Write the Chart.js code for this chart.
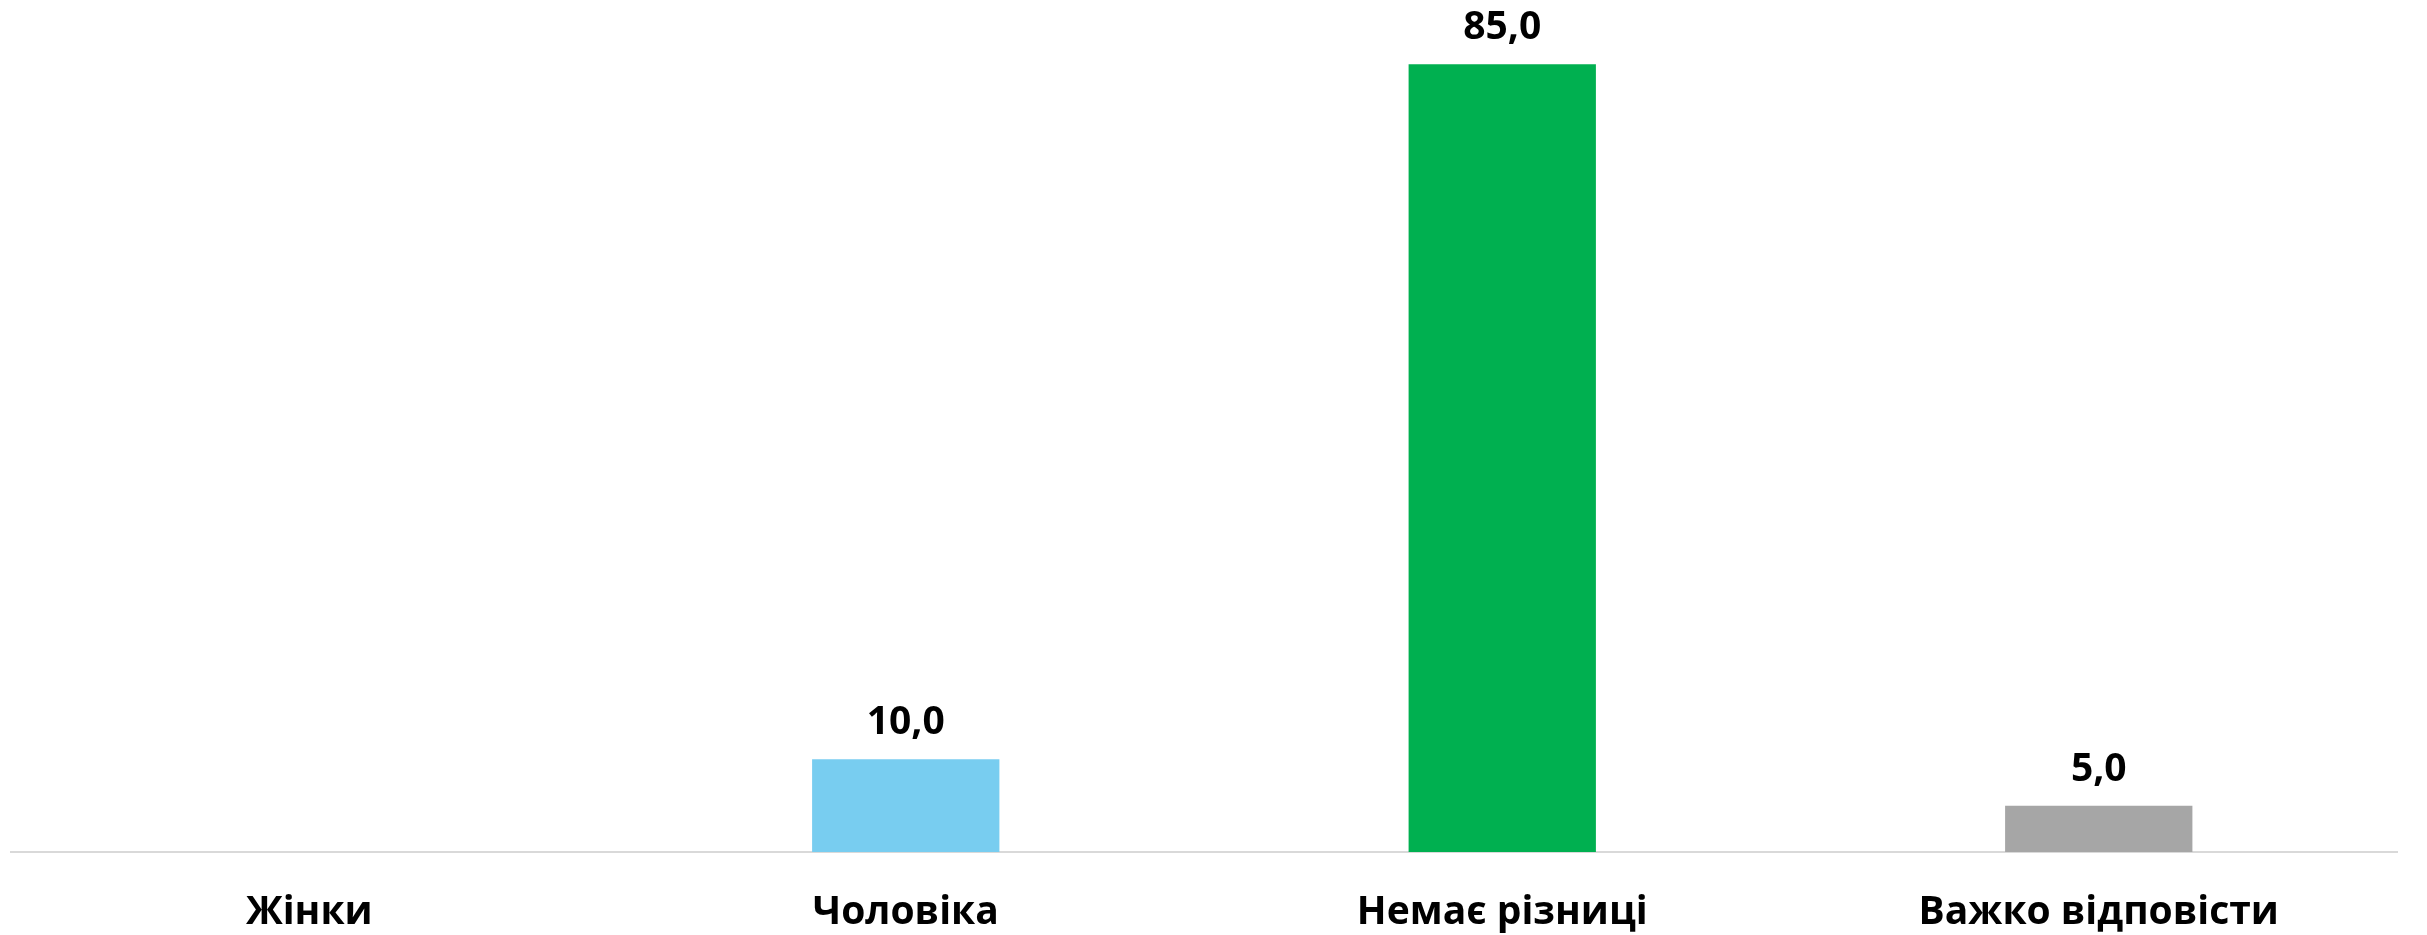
<!DOCTYPE html>
<html>
<head>
<meta charset="utf-8">
<script src="https://cdn.jsdelivr.net/npm/chart.js@4/dist/chart.umd.min.js"></script>
<style>
  html, body { margin: 0; padding: 0; background: #fff; }
  #wrap { width: 2427px; height: 935px; }
</style>
</head>
<body>
<div id="wrap"><canvas id="c" width="2427" height="935"></canvas></div>
<script>
const categories = ['Жінки', 'Чоловіка', 'Немає різниці', 'Важко відповісти'];
const values = [0, 10, 85, 5];
const barColors = ['#78CDF0', '#78CDF0', '#00B050', '#A6A6A6'];

const FONT = '"Open Sans", "Noto Sans", sans-serif';

// value labels above each non-zero bar
const valueLabels = {
  id: 'valueLabels',
  afterDatasetsDraw(chart) {
    const ctx = chart.ctx;
    const meta = chart.getDatasetMeta(0);
    ctx.save();
    ctx.font = `bold 39px ${FONT}`;
    ctx.fillStyle = '#000';
    ctx.textAlign = 'center';
    ctx.textBaseline = 'middle';
    meta.data.forEach((bar, i) => {
      const v = values[i];
      if (!v) return;
      ctx.fillText(v.toFixed(1).replace('.', ','), bar.x, bar.y - 36);
    });
    ctx.restore();
  }
};

new Chart(document.getElementById('c'), {
  type: 'bar',
  data: {
    labels: categories,
    datasets: [{
      data: values,
      backgroundColor: barColors,
      borderWidth: 0,
      barPercentage: 0.314,
      categoryPercentage: 1
    }]
  },
  options: {
    responsive: false,
    animation: false,
    layout: { padding: { top: 18, left: 11, right: 30, bottom: 0 } },
    plugins: { legend: { display: false }, tooltip: { enabled: false } },
    scales: {
      y: { display: false, min: 0, max: 90 },
      x: {
        grid: { display: false, drawTicks: false },
        border: { color: '#D9D9D9', width: 2 },
        ticks: {
          color: '#000',
          padding: 37,
          font: { family: FONT, size: 39, weight: 'bold' }
        },
        afterFit(scale) { scale.height = 83; }
      }
    }
  },
  plugins: [valueLabels]
});
</script>
</body>
</html>
